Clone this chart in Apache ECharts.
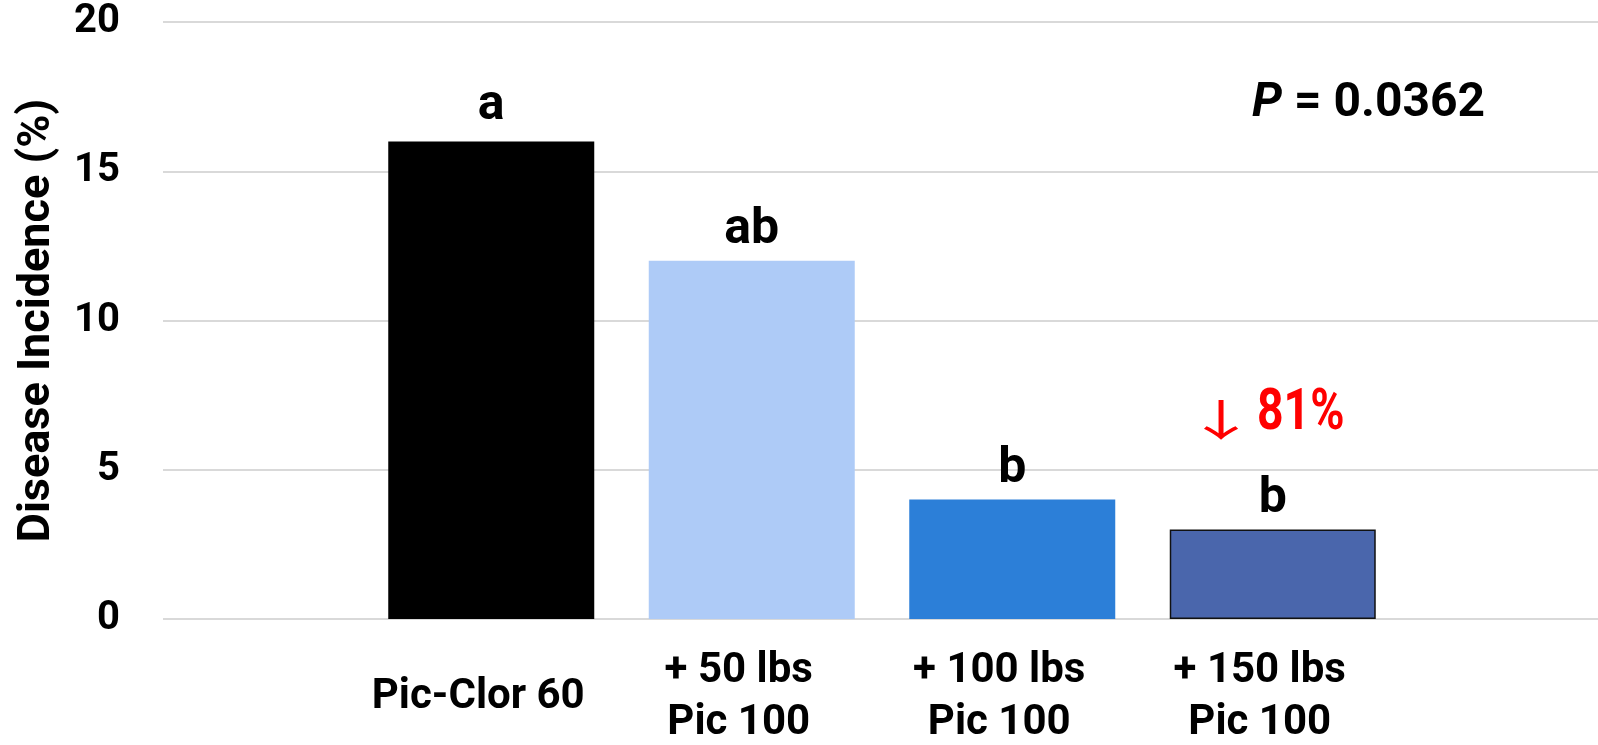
<!DOCTYPE html>
<html>
<head>
<meta charset="utf-8">
<script src="https://cdn.jsdelivr.net/npm/echarts@6/dist/echarts.min.js"></script>
<style>
html,body{margin:0;padding:0;background:#fff;}
#chart{width:1598px;height:745px;}
</style>
</head>
<body>
<div id="chart"></div>
<script>
const categories = ['Pic-Clor 60', '+ 50 lbs\nPic 100', '+ 100 lbs\nPic 100', '+ 150 lbs\nPic 100'];
const values = [16, 12, 4, 3];
const letters = ['a', 'ab', 'b', 'b'];
const yTicks = [0, 5, 10, 15, 20];
const pValue = '0.0362';
const reduction = '81%';

const FONT = 'Roboto';
const barStyles = [
  { color: '#000000' },
  { color: '#AECBF7' },
  { color: '#2C7FD8' },
  { color: '#4A66AC', borderColor: '#111111', borderWidth: 1.5 }
];
const labelGaps = [10, 5, 5, 5];

const chart = echarts.init(document.getElementById('chart'), null, { renderer: 'canvas' });
const option = {
  animation: false,
  backgroundColor: '#ffffff',
  grid: [
    { left: 163, right: 0, top: 22, bottom: 126, outerBoundsMode: 'none', containLabel: false },
    { left: 361, right: 195, top: 22, bottom: 126, outerBoundsMode: 'none', containLabel: false }
  ],
  xAxis: [
    { type: 'category', gridIndex: 0, data: [''], show: false },
    {
      type: 'category', gridIndex: 1, data: categories,
      axisLine: { show: false }, axisTick: { show: false },
      axisLabel: {
        interval: 0, margin: 78, verticalAlign: 'middle', padding: [0, 26, 0, 0],
        fontFamily: FONT, fontWeight: 'bold', fontSize: 42, lineHeight: 52, color: '#000'
      }
    }
  ],
  yAxis: [
    {
      type: 'value', gridIndex: 0, min: yTicks[0], max: yTicks[yTicks.length - 1], interval: 5,
      axisLine: { show: false }, axisTick: { show: false },
      splitLine: { lineStyle: { color: '#D9D9D9', width: 2 } },
      axisLabel: { margin: 43, fontFamily: FONT, fontWeight: 'bold', fontSize: 40, color: '#000' },
      name: 'Disease Incidence (%)', nameLocation: 'middle', nameGap: 103,
      nameTextStyle: { fontFamily: FONT, fontWeight: 'bold', fontSize: 45, color: '#000' }
    },
    {
      type: 'value', gridIndex: 1, min: 0, max: 20, interval: 5, show: false
    }
  ],
  series: [
    {
      type: 'bar', xAxisIndex: 1, yAxisIndex: 1, barWidth: 206,
      data: values.map((v, i) => ({ value: v, itemStyle: barStyles[i], label: { distance: labelGaps[i] } })),
      label: {
        show: true, position: 'top',
        formatter: p => letters[p.dataIndex],
        fontFamily: FONT, fontWeight: 'bold', fontSize: 50, color: '#000'
      }
    }
  ],
  graphic: [
    {
      type: 'text', x: 1252, y: 104,
      style: {
        text: '{it|P}{n| = ' + pValue + '}',
        verticalAlign: 'middle', align: 'left',
        rich: {
          it: { fontFamily: FONT, fontWeight: 'bold', fontStyle: 'italic', fontSize: 48, fill: '#000' },
          n: { fontFamily: FONT, fontWeight: 'bold', fontSize: 48, fill: '#000' }
        }
      }
    },
    {
      type: 'text', x: 1221, y: 420, scaleX: 1.7,
      style: {
        text: '\u2193', align: 'center', verticalAlign: 'middle',
        fontFamily: 'Noto Sans CJK SC', fontSize: 43, fill: '#FF0000'
      }
    },
    {
      type: 'text', x: 1257, y: 414, scaleX: 0.8,
      style: {
        text: reduction, align: 'left', verticalAlign: 'middle',
        fontFamily: FONT, fontWeight: 'bold', fontSize: 58, fill: '#FF0000'
      }
    }
  ]
};
chart.setOption(option);
</script>
</body>
</html>
